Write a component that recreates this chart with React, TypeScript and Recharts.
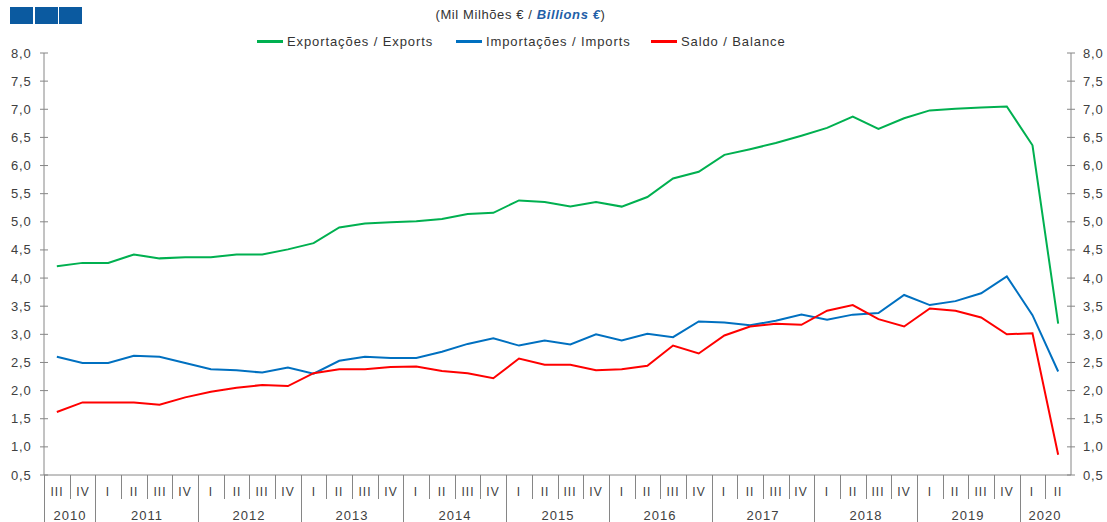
import React from 'react';
import { LineChart, Line, XAxis, YAxis } from 'recharts';

const quarterLabels = [
  'III', 'IV',
  'I', 'II', 'III', 'IV',
  'I', 'II', 'III', 'IV',
  'I', 'II', 'III', 'IV',
  'I', 'II', 'III', 'IV',
  'I', 'II', 'III', 'IV',
  'I', 'II', 'III', 'IV',
  'I', 'II', 'III', 'IV',
  'I', 'II', 'III', 'IV',
  'I', 'II', 'III', 'IV',
  'I', 'II',
];

const yearLabels = [
  '2010', '2010',
  '2011', '2011', '2011', '2011',
  '2012', '2012', '2012', '2012',
  '2013', '2013', '2013', '2013',
  '2014', '2014', '2014', '2014',
  '2015', '2015', '2015', '2015',
  '2016', '2016', '2016', '2016',
  '2017', '2017', '2017', '2017',
  '2018', '2018', '2018', '2018',
  '2019', '2019', '2019', '2019',
  '2020', '2020',
];

const exportsValues = [
  4.21, 4.27,
  4.27, 4.42, 4.35, 4.37,
  4.37, 4.42, 4.42, 4.51,
  4.62, 4.90, 4.97, 4.99,
  5.01, 5.05, 5.14, 5.16,
  5.38, 5.35, 5.27, 5.35,
  5.27, 5.44, 5.77, 5.89,
  6.19, 6.29, 6.40, 6.53,
  6.67, 6.87, 6.65, 6.84,
  6.98, 7.01, 7.03, 7.05,
  6.36, 3.19,
];

const importsValues = [
  2.60, 2.49,
  2.49, 2.62, 2.60, 2.49,
  2.38, 2.36, 2.32, 2.41,
  2.30, 2.53, 2.60, 2.58,
  2.58, 2.69, 2.83, 2.93,
  2.80, 2.89, 2.82, 3.00,
  2.89, 3.01, 2.95, 3.23,
  3.21, 3.16, 3.24, 3.35,
  3.26, 3.35, 3.38, 3.70,
  3.52, 3.59, 3.73, 4.03,
  3.34, 2.34,
];

const balanceValues = [
  1.62, 1.79,
  1.79, 1.79, 1.75, 1.88,
  1.98, 2.05, 2.10, 2.08,
  2.31, 2.38, 2.38, 2.42,
  2.43, 2.35, 2.31, 2.22,
  2.57, 2.46, 2.46, 2.36,
  2.38, 2.44, 2.80, 2.66,
  2.98, 3.14, 3.19, 3.17,
  3.42, 3.52, 3.27, 3.14,
  3.46, 3.42, 3.30, 3.00,
  3.02, 0.86,
];

const yTicks = [0.5, 1, 1.5, 2, 2.5, 3, 3.5, 4, 4.5, 5, 5.5, 6, 6.5, 7, 7.5, 8];

const seriesNames = ['Exportações / Exports', 'Importações / Imports', 'Saldo / Balance'];
const seriesColors = ['#00b050', '#0070c0', '#ff0000'];

const W = 1107;
const H = 522;
const PLOT_LEFT = 44;
const PLOT_RIGHT = 1071;
const PLOT_TOP = 53;
const PLOT_BOTTOM = 475;
const BAND = (PLOT_RIGHT - PLOT_LEFT) / quarterLabels.length;
const AXIS = '#868686';
const TEXT = '#404040';
const FONT = '"Liberation Sans", Arial, sans-serif';

const data = quarterLabels.map((q, i) => ({
  idx: i,
  q,
  year: yearLabels[i],
  exp: exportsValues[i],
  imp: importsValues[i],
  bal: balanceValues[i],
}));

const fmt = (v: number) => v.toFixed(1).replace('.', ',');

function XTick(props: any) {
  const { x, y, payload } = props;
  const i = Number(payload.value);
  const yr = yearLabels[i];
  const firstOfYear = i === 0 || yearLabels[i - 1] !== yr;
  const n = yearLabels.filter((v) => v === yr).length;
  const left = Math.round(x - BAND / 2) + 0.5;
  return (
    <g>
      <line x1={left} x2={left} y1={y} y2={firstOfYear ? H : y + 24} stroke={AXIS} strokeWidth={1} />
      <text x={Math.round(x)} y={y + 20.5} textAnchor="middle" fontSize={12} fill={TEXT} fontFamily={FONT} letterSpacing={1}>
        {quarterLabels[i]}
      </text>
      {firstOfYear && (
        <text x={Math.round(x + ((n - 1) / 2) * BAND)} y={y + 45} textAnchor="middle" fontSize={13} fill={TEXT} fontFamily={FONT} letterSpacing={1}>
          {yr}
        </text>
      )}
    </g>
  );
}

function LeftTick(props: any) {
  const { x, y, payload } = props;
  return (
    <g>
      <line x1={x - 4} x2={x + 4} y1={y} y2={y} stroke={AXIS} strokeWidth={1} />
      <text x={x - 12.5} y={y + 4.5} textAnchor="end" fontSize={13} fill={TEXT} fontFamily={FONT} letterSpacing={0.8}>
        {fmt(payload.value)}
      </text>
    </g>
  );
}

function RightTick(props: any) {
  const { x, y, payload } = props;
  return (
    <g>
      <line x1={x - 4} x2={x + 4} y1={y} y2={y} stroke={AXIS} strokeWidth={1} />
      <text x={x + 12} y={y + 4.5} textAnchor="start" fontSize={13} fill={TEXT} fontFamily={FONT} letterSpacing={0.8}>
        {fmt(payload.value)}
      </text>
    </g>
  );
}

const legendX = [257, 456, 651];

export default function App() {
  return (
    <div style={{ position: 'absolute', left: 0, top: 0, width: W, height: H, background: '#fff', fontFamily: FONT }}>
      <LineChart
        width={W}
        height={H}
        data={data}
        margin={{ top: PLOT_TOP, right: 0, bottom: 0, left: 0 }}
      >
        <XAxis
          dataKey="idx"
          type="category"
          interval={0}
          height={H - PLOT_BOTTOM}
          padding={{ left: BAND / 2, right: BAND / 2 }}
          tickSize={0}
          tickMargin={0}
          tickLine={false}
          axisLine={{ stroke: AXIS, strokeWidth: 1 }}
          tick={<XTick />}
        />
        <YAxis
          yAxisId="left"
          orientation="left"
          width={PLOT_LEFT}
          domain={[0.5, 8]}
          ticks={yTicks}
          type="number"
          allowDataOverflow
          tickSize={0}
          tickMargin={0}
          tickLine={false}
          axisLine={{ stroke: AXIS, strokeWidth: 1 }}
          tick={<LeftTick />}
        />
        <YAxis
          yAxisId="right"
          orientation="right"
          width={W - PLOT_RIGHT}
          domain={[0.5, 8]}
          ticks={yTicks}
          type="number"
          allowDataOverflow
          tickSize={0}
          tickMargin={0}
          tickLine={false}
          axisLine={{ stroke: AXIS, strokeWidth: 1 }}
          tick={<RightTick />}
        />
        <Line yAxisId="left" type="linear" dataKey="exp" name={seriesNames[0]} stroke={seriesColors[0]} strokeWidth={2} dot={false} isAnimationActive={false} />
        <Line yAxisId="left" type="linear" dataKey="imp" name={seriesNames[1]} stroke={seriesColors[1]} strokeWidth={2} dot={false} isAnimationActive={false} />
        <Line yAxisId="left" type="linear" dataKey="bal" name={seriesNames[2]} stroke={seriesColors[2]} strokeWidth={2} dot={false} isAnimationActive={false} />
      </LineChart>

      {/* decorative blue squares */}
      {[10, 35, 59].map((sx, k) => (
        <div key={k} style={{ position: 'absolute', left: sx, top: 7, width: 23, height: 17, background: '#0b5aa0' }} />
      ))}

      {/* subtitle */}
      <div style={{ position: 'absolute', left: 0, width: W, top: 7, textAlign: 'center', fontSize: 13, color: '#333', letterSpacing: 0.6 }}>
        <span style={{ position: 'relative', left: -33 }}>
          (Mil Milhões € / <b style={{ fontStyle: 'italic', color: '#1f5fa8' }}>Billions</b>{' '}
          <b style={{ fontStyle: 'italic', color: '#1f5fa8' }}>€</b>)
        </span>
      </div>

      {/* legend */}
      {seriesNames.map((name, k) => (
        <div key={name} style={{ position: 'absolute', left: legendX[k], top: 32, height: 18, display: 'flex', alignItems: 'center', whiteSpace: 'nowrap' }}>
          <div style={{ width: 26, height: 3, background: seriesColors[k], marginRight: 4 }} />
          <span style={{ fontSize: 13, color: '#333', letterSpacing: 0.9 }}>{name}</span>
        </div>
      ))}
    </div>
  );
}
